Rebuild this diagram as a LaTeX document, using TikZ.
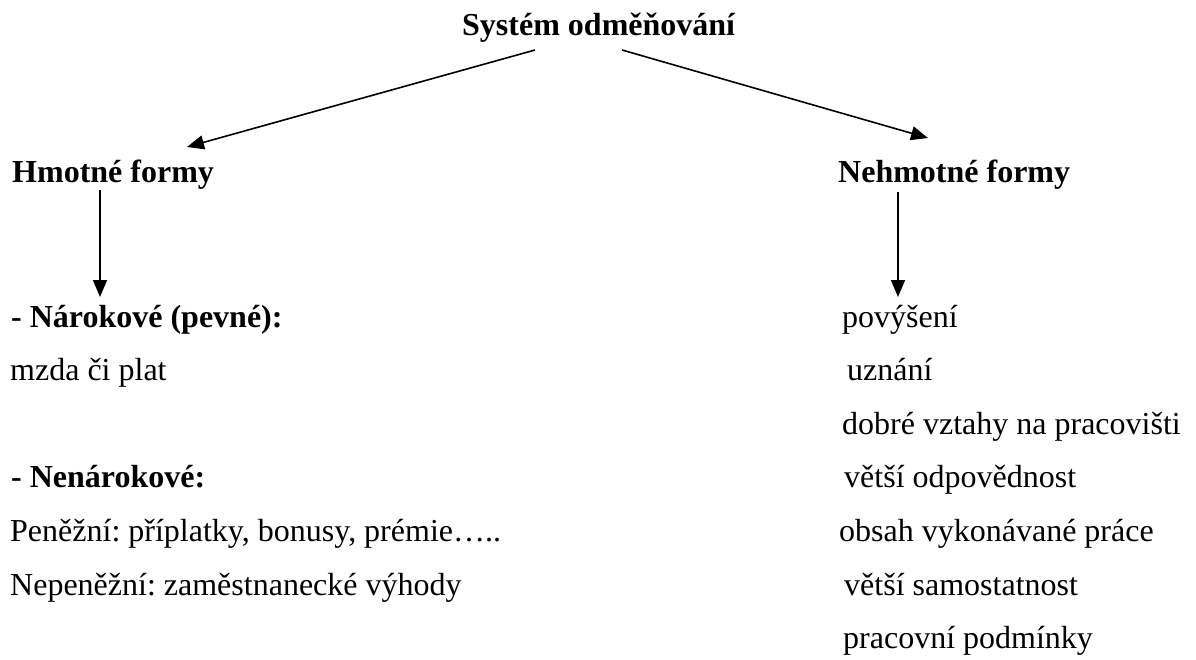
\documentclass[tikz,border=0pt]{standalone}
\usepackage{fontspec}
\setmainfont{Liberation Serif}
\usetikzlibrary{arrows.meta,calc}
\frenchspacing
\tikzset{
  txt/.style={anchor=base west,inner sep=0pt,font=\fontsize{32}{38}\selectfont},
  btxt/.style={txt,font=\fontsize{32}{38}\selectfont\bfseries},
  arr/.style={line width=1.6pt,-{Triangle[length=17pt,width=14pt]}}
}
\begin{document}
\begin{tikzpicture}[x=1pt,y=-1pt]
\useasboundingbox (0,0) rectangle (1196,659);
% heads
\node[btxt] (title) at (462,35) {Systém odměňování};
\node[btxt] (hm) at (12,182) {Hmotné formy};
\node[btxt] (nh) at (838,182) {Nehmotné formy};
% left column
\node[btxt] (nar) at (11,327) {- Nárokové (pevné):};
\node[txt] (mzda) at (10,380) {mzda či plat};
\node[btxt] (nenar) at (11,487) {- Nenárokové:};
\node[txt] (pen) at (10,541) {Peněžní: příplatky, bonusy, prémie…..};
\node[txt] (nepen) at (10,595) {Nepeněžní: zaměstnanecké výhody};
% right column
\node[txt] (pov) at (842,327) {povýšení};
\node[txt] (uzn) at (847,380) {uznání};
\node[txt] (dob) at (842,434) {dobré vztahy na pracovišti};
\node[txt] (vod) at (844,487) {větší odpovědnost};
\node[txt] (obs) at (839,541) {obsah vykonávané práce};
\node[txt] (vsam) at (844,595) {větší samostatnost};
\node[txt] (pod) at (843,648) {pracovní podmínky};
% connectors
\draw[arr] ($(title.base west)+(73,15)$) -- ($(hm.base west)+(175,-35)$);
\draw[arr] ($(title.base west)+(160,15)$) -- ($(nh.base west)+(90,-44)$);
\draw[arr] ($(hm.base west)+(88,8)$) -- ($(nar.base west)+(89,-30)$);
\draw[arr] ($(nh.base west)+(60,10)$) -- ($(pov.base west)+(56,-30)$);
\end{tikzpicture}
\end{document}
